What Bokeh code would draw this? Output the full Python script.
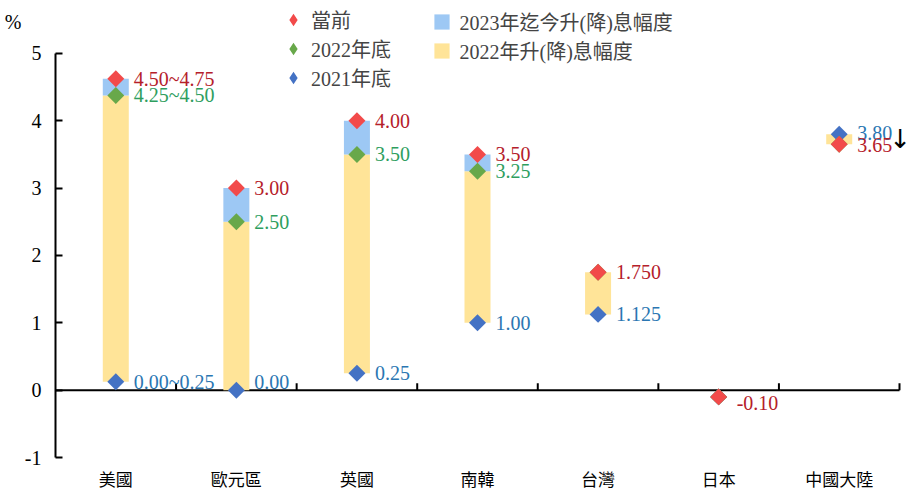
import numpy as np
from bokeh.plotting import figure
from bokeh.models import (Range1d, FixedTicker, Legend, LegendItem, ColumnDataSource,
                          LinearAxis)
from bokeh.embed import file_html
from bokeh.resources import INLINE
from bokeh.core.properties import value

# ---------------- data ----------------
categories = ["美國", "歐元區", "英國", "南韓", "台灣", "日本", "中國大陸"]
rate_2021 = [0.125, 0.00, 0.25, 1.00, 1.125, -0.10, 3.80]
rate_2022 = [4.375, 2.50, 3.50, 3.25, 1.75, -0.10, 3.65]
rate_now = [4.625, 3.00, 4.00, 3.50, 1.75, -0.10, 3.65]
label_now = ["4.50~4.75", "3.00", "4.00", "3.50", "1.750", "-0.10", "3.65"]
label_2022 = ["4.25~4.50", "2.50", "3.50", "3.25", "", "", ""]
label_2021 = ["0.00~0.25", "0.00", "0.25", "1.00", "1.125", "", "3.80"]
y_ticks = [-1, 0, 1, 2, 3, 4, 5]
y_unit = "%"
series_names = ["當前", "2022年底", "2021年底", "2023年迄今升(降)息幅度", "2022年升(降)息幅度"]

# label nudges (screen px, layout only)
nudge_now = [0, 0, 0, 0, 0, 6, 1]
nudge_2022 = [0, 0, 0, 0, 0, 0, 0]
nudge_2021 = [0, -8, 0, 0, 0, 0, -1]

# ---------------- styles ----------------
RED, GREEN, BLUE = "#F24A4A", "#68A84A", "#4472C4"
BAR_BLUE, BAR_YEL = "#9DC8F4", "#FFE498"
TXT_RED, TXT_GREEN, TXT_BLUE = "#B5202A", "#2E9E5E", "#2A76B2"
SERIF = "'Liberation Serif', 'Noto Sans CJK TC'"

W, H = 910, 492
LEFT, TOP, BOTTOM = 55, 53, 34          # pixel position of axis box
ymin, ymax = y_ticks[0], y_ticks[-1]
px_per_y = (H - BOTTOM - TOP) / (ymax - ymin)
n = len(categories)
xs = np.arange(n) + 0.5
px_per_cat = 844 / n
src = ColumnDataSource(dict(
    x=xs, r21=rate_2021, r22=rate_2022, now=rate_now,
    l21=label_2021, l22=label_2022, lnow=label_now,
    n21=nudge_2021, n22=nudge_2022, nnow=nudge_now,
))

# frame spans to the top of the canvas so the legend is not clipped
p = figure(width=W, height=H, output_backend="svg", toolbar_location=None, title=None,
           x_range=Range1d(0, (W - LEFT) / px_per_cat),
           y_range=Range1d(ymin, ymax + TOP / px_per_y),
           min_border_left=LEFT, min_border_right=0, min_border_top=0,
           min_border_bottom=BOTTOM)
p.outline_line_color = None
p.xgrid.visible = False
p.ygrid.visible = False
p.background_fill_color = "white"
p.border_fill_color = "white"

# y axis
ya = p.yaxis[0]
ya.bounds = (ymin, ymax)
ya.ticker = FixedTicker(ticks=y_ticks)
ya.major_label_overrides = {t: str(t) for t in y_ticks}
ya.major_tick_in = 7
ya.major_tick_out = 0
ya.minor_tick_line_color = None
ya.axis_line_width = 2
ya.major_tick_line_width = 2
ya.axis_line_color = "black"
ya.major_tick_line_color = "black"
ya.major_label_standoff = 14
ya.major_label_text_font = "Liberation Serif"
ya.major_label_text_font_size = "20px"
ya.major_label_text_color = "black"

# "%" unit label above the y axis, as a second (outer) left axis
unit_y = ymax + (TOP - 22) / px_per_y
ua = LinearAxis(ticker=FixedTicker(ticks=[unit_y]),
                major_label_overrides={unit_y: y_unit},
                axis_line_color=None, major_tick_line_color=None,
                minor_tick_line_color=None, major_tick_in=0, major_tick_out=0,
                major_label_standoff=0, major_label_text_font="Liberation Serif",
                major_label_text_font_size="20px", major_label_text_color="black")
p.add_layout(ua, "left")

# x axis (category labels at bottom)
xa = p.xaxis[0]
xa.ticker = FixedTicker(ticks=list(xs))
xa.major_label_overrides = {float(x): c for x, c in zip(xs, categories)}
xa.axis_line_color = None
xa.major_tick_line_color = None
xa.major_tick_in = 0
xa.major_tick_out = 0
xa.minor_tick_line_color = None
xa.major_label_standoff = 13
xa.major_label_text_font = SERIF
xa.major_label_text_font_size = "17px"
xa.major_label_text_color = "black"

# zero line with category-boundary ticks
p.segment(x0=[0], x1=[n], y0=[0], y1=[0], line_color="black", line_width=2)
bounds = np.arange(1, n + 1)
p.segment(x0=bounds, x1=bounds, y0=np.zeros(n), y1=np.full(n, 7 / px_per_y),
          line_color="black", line_width=2)

# bars
bar_w = 26 / px_per_cat
r_y = p.vbar(x="x", width=bar_w, bottom="r21", top="r22", source=src,
             fill_color=BAR_YEL, line_color=None)
r_b = p.vbar(x="x", width=bar_w, bottom="r22", top="now", source=src,
             fill_color=BAR_BLUE, line_color=None)

# markers (squares turned 45 degrees)
mk = dict(marker="square", angle=np.pi / 4, size=12, line_color=None, source=src)
s21 = p.scatter(x="x", y="r21", fill_color=BLUE, **mk)
s22 = p.scatter(x="x", y="r22", fill_color=GREEN, **mk)
snow = p.scatter(x="x", y="now", fill_color=RED, **mk)

# legend proxies drawn as diamonds (no visible point in the plot)
lg = dict(x=[np.nan], y=[np.nan], marker="diamond", size=12, line_width=2.5,
          line_join="miter")
l_now = p.scatter(fill_color=RED, line_color=RED, **lg)
l_22 = p.scatter(fill_color=GREEN, line_color=GREEN, **lg)
l_21 = p.scatter(fill_color=BLUE, line_color=BLUE, **lg)

# labels
tk = dict(x="x", source=src, x_offset=18, text_font=value("Liberation Serif"),
          text_font_size="20px", text_baseline="middle", text_align="left")
p.text(y="r21", text="l21", y_offset="n21", text_color=TXT_BLUE, **tk)
p.text(y="r22", text="l22", y_offset="n22", text_color=TXT_GREEN, **tk)
p.text(y="now", text="lnow", y_offset="nnow", text_color=TXT_RED, **tk)

# downward arrow next to China's labels
p.text(x=[xs[-1]], y=[(rate_2021[-1] + rate_now[-1]) / 2], text=["↓"], x_offset=61,
       text_font=value("DejaVu Sans"), text_font_size="26px", text_color="black",
       text_baseline="middle", text_align="center")

# legends (location = bottom-left of legend box, from frame bottom-left)
frame_h = H - BOTTOM
leg_common = dict(spacing=0, padding=2, margin=0, border_line_color=None,
                  background_fill_alpha=0, label_text_font=SERIF,
                  label_text_font_size="20px", label_height=27)
leg1 = Legend(items=[LegendItem(label=series_names[0], renderers=[l_now]),
                     LegendItem(label=series_names[1], renderers=[l_22]),
                     LegendItem(label=series_names[2], renderers=[l_21])],
              location=(283 - LEFT, frame_h - 92.5), glyph_width=20, glyph_height=27,
              label_standoff=8, **leg_common)
leg2 = Legend(items=[LegendItem(label=series_names[3], renderers=[r_b]),
                     LegendItem(label=series_names[4], renderers=[r_y])],
              location=(431.5 - LEFT, frame_h - 65.5), glyph_width=19, glyph_height=19,
              label_standoff=9, **leg_common)
p.add_layout(leg1, "center")
p.add_layout(leg2, "center")

open("out.html", "w").write(file_html(p, INLINE))
